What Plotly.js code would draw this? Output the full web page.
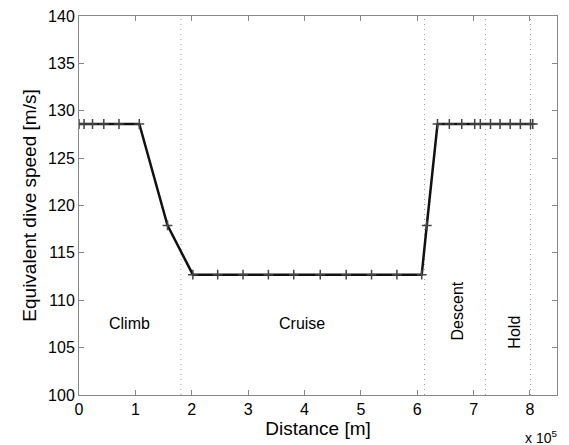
<!DOCTYPE html>
<html>
<head>
<meta charset="utf-8">
<script src="https://cdn.plot.ly/plotly-3.0.1.min.js"></script>
<style>html,body{margin:0;padding:0;background:#fff;}#chart{width:569px;height:445px;}</style>
</head>
<body>
<div id="chart"></div>
<script>
// Distance [m] and equivalent dive speed [m/s]
const distance = [0, 9000, 24000, 44000, 71000, 107000, 157000, 202000,
  246000, 291000, 336000, 381000, 428000, 474000, 519000, 564000, 608000,
  617000, 636000, 657000, 679000, 702000, 712000, 730000, 747000, 765000, 783000, 801000, 805000];
const speed = [128.6, 128.6, 128.6, 128.6, 128.6, 128.6, 117.9, 112.7,
  112.7, 112.7, 112.7, 112.7, 112.7, 112.7, 112.7, 112.7, 112.7,
  117.9, 128.6, 128.6, 128.6, 128.6, 128.6, 128.6, 128.6, 128.6, 128.6, 128.6, 128.6];
const phaseBoundaries = [181000, 613000, 721000, 801000];
const phaseNames = ["Climb", "Cruise", "Descent", "Hold"];
const phaseLabelX = [90000, 396000, 672000, 772000];
const phaseLabelY = [107.5, 107.5, 108.9, 106.6];
const phaseLabelAngle = [0, 0, -90, -90];
const xTickVals = [0, 100000, 200000, 300000, 400000, 500000, 600000, 700000, 800000];
const xTickText = ["0", "1", "2", "3", "4", "5", "6", "7", "8"];
const yRange = [100, 140];
const xRange = [0, 848000];

const FONT = "Liberation Sans, Arial, Helvetica, sans-serif";
const traces = [];
phaseBoundaries.forEach(b => {
  traces.push({
    x: [b, b], y: yRange, mode: "lines", hoverinfo: "skip", showlegend: false,
    line: {color: "#9a9a9a", width: 1, dash: "1px,4px"}
  });
});
traces.push({
  x: distance, y: speed, mode: "lines+markers", showlegend: false,
  line: {color: "#111111", width: 2.5},
  marker: {symbol: "cross-thin-open", size: 7, line: {color: "#444444", width: 1.5}, color: "#444444"}
});

const annotations = phaseNames.map((n, i) => ({
  x: phaseLabelX[i], y: phaseLabelY[i], xref: "x", yref: "y", text: n,
  showarrow: false, textangle: phaseLabelAngle[i],
  font: {family: FONT, size: 16, color: "#000"}
}));
annotations.push({
  xref: "paper", yref: "paper", x: 1.005, y: -0.112, xanchor: "right", yanchor: "middle",
  text: "x 10<sup>5</sup>", showarrow: false,
  font: {family: FONT, size: 14, color: "#000"}
});

const axisCommon = {
  showgrid: false, zeroline: false, showline: true, mirror: "ticks",
  linecolor: "#888888", linewidth: 1, ticks: "inside", ticklen: 5, tickcolor: "#888888",
  tickfont: {family: FONT, size: 16, color: "#000"}
};

const layout = {
  width: 569, height: 445,
  margin: {l: 79, r: 12, t: 16, b: 50},
  paper_bgcolor: "#fff", plot_bgcolor: "#fff",
  xaxis: Object.assign({}, axisCommon, {
    range: xRange, tickvals: xTickVals, ticktext: xTickText,
    title: {text: "Distance [m]", standoff: 0, font: {family: FONT, size: 19, color: "#000"}}
  }),
  yaxis: Object.assign({}, axisCommon, {
    range: yRange, dtick: 5, tick0: 100,
    title: {text: "Equivalent dive speed [m/s]", standoff: 6, font: {family: FONT, size: 19, color: "#000"}}
  }),
  annotations: annotations
};

Plotly.newPlot("chart", traces, layout, {displayModeBar: false, staticPlot: true});
</script>
</body>
</html>
